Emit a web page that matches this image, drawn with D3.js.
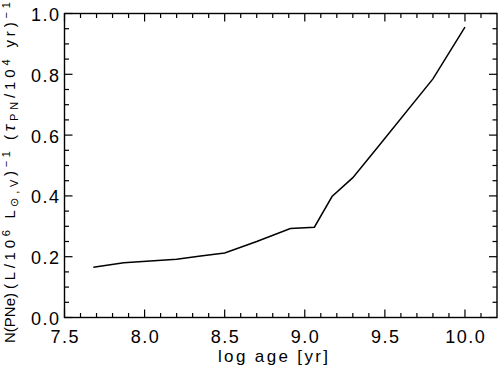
<!DOCTYPE html>
<html><head><meta charset="utf-8">
<script src="https://cdn.jsdelivr.net/npm/d3@7"></script>
<style>body{margin:0;background:#fff}text{font-family:"Liberation Sans",Arial,sans-serif;fill:#000}</style>
</head><body>
<svg id="c" width="500" height="374"></svg>
<script>
const logAge = [7.68, 7.87, 8.2, 8.35, 8.5, 8.7, 8.91, 9.06, 9.17, 9.3, 9.45, 9.8, 10.0];
const nPNe   = [0.165, 0.18, 0.192, 0.202, 0.212, 0.25, 0.293, 0.297, 0.398, 0.46, 0.557, 0.785, 0.955];
const xTicks = [7.5, 8.0, 8.5, 9.0, 9.5, 10.0];
const yTicks = [0.0, 0.2, 0.4, 0.6, 0.8, 1.0];
const xMinor = [7.6, 7.7, 7.8, 7.9, 8.1, 8.2, 8.3, 8.4, 8.6, 8.7, 8.8, 8.9, 9.1, 9.2, 9.3, 9.4, 9.6, 9.7, 9.8, 9.9, 10.1];
const yMinor = [0.05, 0.1, 0.15, 0.25, 0.3, 0.35, 0.45, 0.5, 0.55, 0.65, 0.7, 0.75, 0.85, 0.9, 0.95];

const svg = d3.select("#c");
const L = 64.5, R = 497, T = 13.5, B = 317.5;
const x = d3.scaleLinear().domain([7.5, 10.2]).range([L, R]);
const y = d3.scaleLinear().domain([0, 1]).range([B, T]);
const fmt = d3.format(".1f");

const xt = [...xTicks.map(v => ({v, len: 8})), ...xMinor.map(v => ({v, len: 4.5}))];
const yt = [...yTicks.map(v => ({v, len: 8})), ...yMinor.map(v => ({v, len: 4.5}))];

const tg = svg.append("g").attr("fill", "#000");
tg.selectAll(".xb").data(xt).join("rect").attr("class", "xb")
  .attr("x", d => x(d.v) - 0.6).attr("y", d => B - d.len).attr("width", 1.2).attr("height", d => d.len);
tg.selectAll(".xt").data(xt).join("rect").attr("class", "xt")
  .attr("x", d => x(d.v) - 0.6).attr("y", T).attr("width", 1.2).attr("height", d => d.len);
tg.selectAll(".yl").data(yt).join("rect").attr("class", "yl")
  .attr("x", L).attr("y", d => y(d.v) - 0.6).attr("width", d => d.len).attr("height", 1.2);
tg.selectAll(".yr").data(yt).join("rect").attr("class", "yr")
  .attr("x", d => R - d.len).attr("y", d => y(d.v) - 0.6).attr("width", d => d.len).attr("height", 1.2);

svg.append("rect").attr("x", L).attr("y", T).attr("width", R - L).attr("height", B - T)
  .attr("fill", "none").attr("stroke", "#000").attr("stroke-width", 1.4);

xTicks.forEach(v => svg.append("text").attr("x", x(v) + 0.8).attr("y", 343).attr("text-anchor", "middle")
  .attr("font-size", 18).attr("letter-spacing", 1.5).text(fmt(v)));
yTicks.forEach(v => svg.append("text").attr("x", 60.5).attr("y", y(v) + 7.5).attr("text-anchor", "end")
  .attr("font-size", 18).attr("letter-spacing", 1.5).text(fmt(v)));

const line = d3.line().x((d, i) => x(logAge[i])).y(d => y(d));
svg.append("path").attr("d", line(nPNe)).attr("fill", "none").attr("stroke", "#000").attr("stroke-width", 1.5);

svg.append("text").attr("x", 218).attr("y", 362).attr("font-size", 17)
  .attr("textLength", 110).attr("lengthAdjust", "spacing").text("log age [yr]");

// Y title in three pieces, rotated
const fs = 15, sfs = 11;
function piece(yStart, len, build) {
  const t = svg.append("text").attr("transform", `translate(15,${yStart}) rotate(-90)`)
    .attr("font-size", fs);
  if (len) t.attr("textLength", len).attr("lengthAdjust", "spacing");
  build(t);
}
piece(343, 0, t => t.text("N(PNe)"));
piece(289, 138, t => {
  t.append("tspan").text("(L/10");
  t.append("tspan").attr("dy", -5).attr("font-size", sfs).text("6");
  t.append("tspan").attr("dy", 5).text(" L");
  t.append("tspan").attr("dy", 3).attr("font-size", sfs).text("⊙,V");
  t.append("tspan").attr("dy", -3).text(")");
  t.append("tspan").attr("dy", -5).attr("font-size", sfs).text("−1");
});
piece(140, 138, t => {
  t.append("tspan").text("(");
  t.append("tspan").attr("font-style", "italic").attr("font-size", 17).text("τ");
  t.append("tspan").attr("dy", 3).attr("font-size", sfs).text("PN");
  t.append("tspan").attr("dy", -3).text("/10");
  t.append("tspan").attr("dy", -5).attr("font-size", sfs).text("4");
  t.append("tspan").attr("dy", 5).text("  yr)");
  t.append("tspan").attr("dy", -5).attr("font-size", sfs).text("−1");
});
</script>
</body></html>
